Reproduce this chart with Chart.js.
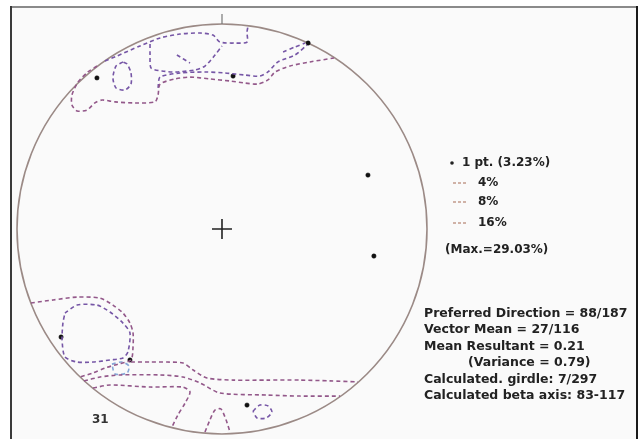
<!DOCTYPE html>
<html>
<head>
<meta charset="utf-8">
<script src="https://cdn.jsdelivr.net/npm/chart.js@4/dist/chart.umd.min.js"></script>
<style>
  html, body { margin: 0; padding: 0; background: #ffffff; }
  canvas { display: block; }
</style>
</head>
<body>
<canvas id="net" width="641" height="439"></canvas>
<script>
// Equal-area net, primitive circle radius = 100 units, x to the east, y to the north.

// Contour lines at 4 %
const contour4_north = [[-61.0,79.5],[-65.4,76.6],[-70.2,71.7],[-73.2,65.4],[-73.2,60.5],[-70.7,57.6],[-65.9,58.0],[-62.0,61.5],[-58.5,62.9],[-52.2,62.0],[-42.4,61.5],[-32.7,62.0],[-31.2,65.4],[-30.2,70.7],[-22.9,73.2],[-15.6,74.1],[-5.9,73.2],[3.9,72.2],[11.2,71.2],[17.6,70.7],[22.4,72.7],[25.9,76.6],[33.2,79.5],[42.9,81.5],[54.6,83.4]];
const contour4_southwest = [[-93.2,-36.1],[-82.4,-34.6],[-70.7,-33.2],[-59.5,-33.7],[-53.2,-37.1],[-48.3,-41.0],[-44.9,-45.9],[-43.4,-50.7],[-43.4,-57.6],[-44.4,-63.9],[-50.7,-65.9],[-57.1,-67.8],[-62.9,-70.2],[-69.3,-72.2]];
const contour4_south = [[-44.4,-64.9],[-35.1,-64.9],[-26.8,-64.9],[-19.0,-65.4],[-14.1,-68.8],[-7.3,-72.7],[5.4,-73.7],[22.0,-73.7],[38.0,-73.7],[52.7,-74.1],[66.3,-74.6]];
const contour4_southB = [[-67.3,-74.1],[-59.5,-72.2],[-49.8,-71.2],[-30.2,-71.2],[-19.0,-72.2],[-10.7,-75.1],[-1.0,-80.0],[22.0,-81.0],[38.0,-81.5],[57.6,-81.5]];
const contour4_southC = [[-62.9,-77.6],[-54.6,-76.1],[-35.1,-77.1],[-19.0,-77.1],[-15.6,-79.5],[-18.0,-84.9],[-21.5,-90.7],[-24.4,-96.6]];
const contour4_southD = [[-8.3,-99.0],[-5.9,-93.2],[-3.4,-88.3],[-0.5,-87.8],[2.0,-93.2],[3.9,-99.0]];

// Contour lines at 8 %
const contour8_north = [[-31.2,68.8],[-30.2,74.1],[-20.5,76.1],[-8.3,76.6],[1.5,76.1],[11.2,75.1],[18.5,74.6],[22.4,76.6],[27.3,81.5],[35.6,84.9],[41.5,89.8]];
const contour8_rim = [[-57.1,82.0],[-51.2,84.4],[-40.0,89.3],[-30.2,93.2],[-20.5,95.1],[-10.7,95.6],[-4.4,94.6],[-1.0,91.2],[6.3,90.7],[12.2,91.2],[12.2,96.1],[12.7,99.0]];
const contour8_cup = [[-35.1,90.2],[-35.1,84.9],[-34.6,78.5],[-29.3,77.1],[-22.9,76.6],[-13.2,77.6],[-8.3,79.5],[-3.4,84.9],[0.0,89.3]];
const contour8_tick = [[-22.0,84.9],[-15.6,81.0]];
const contour8_east = [[29.8,86.3],[35.6,88.8],[40.5,90.7]];
const contour8_loopN = [[-48.3,81.5],[-51.7,79.5],[-53.2,73.7],[-51.7,68.8],[-47.3,67.8],[-44.4,70.7],[-44.4,76.1],[-46.3,80.5],[-48.3,81.5]];
const contour8_loopSW = [[-76.6,-41.0],[-70.7,-37.1],[-61.0,-37.1],[-54.6,-40.5],[-48.3,-45.9],[-44.9,-50.7],[-45.9,-60.0],[-48.3,-62.9],[-54.6,-63.9],[-62.9,-64.9],[-70.7,-64.9],[-76.6,-62.4],[-78.0,-54.1],[-77.6,-45.9],[-76.6,-41.0]];
const contour8_loopS = [[15.1,-88.8],[18.5,-85.9],[22.4,-86.3],[24.4,-89.3],[21.5,-92.2],[17.1,-92.2],[15.1,-88.8]];

// Contour line at 16 %
const contour16_sw = [[-53.7,-65.9],[-48.8,-64.9],[-45.4,-66.8],[-46.3,-70.2],[-52.2,-70.7],[-53.7,-65.9]];

// Single poles
const polesX = [-61.0, 5.4, 42.0, 71.2, 74.1, -78.5, -44.9, 12.2];
const polesY = [73.7, 74.6, 90.7, 26.3, -13.2, -52.7, -63.9, -85.9];

// Legend and statistics text
const legendLabels = ['1 pt. (3.23%)', '4%', '8%', '16%', '(Max.=29.03%)'];
const statLines = [
  'Preferred Direction = 88/187',
  'Vector Mean = 27/116',
  'Mean Resultant = 0.21',
  '(Variance = 0.79)',
  'Calculated. girdle: 7/297',
  'Calculated beta axis: 83-117'
];
const sampleCount = '31';

const toPts = arr => arr.map(p => ({ x: p[0], y: p[1] }));
const COL4 = '#93588a';
const COL8 = '#7656a6';
const COL16 = '#86a6d6';

function contourSet(arr, color) {
  return {
    type: 'scatter', data: toPts(arr), showLine: true, pointRadius: 0,
    borderColor: color, borderWidth: 1.6, borderDash: [4, 3], fill: false,
    tension: 0.25, clip: false
  };
}

const datasets = [
  contourSet(contour4_north, COL4),
  contourSet(contour4_southwest, COL4),
  contourSet(contour4_south, COL4),
  contourSet(contour4_southB, COL4),
  contourSet(contour4_southC, COL4),
  contourSet(contour4_southD, COL4),
  contourSet(contour8_north, COL8),
  contourSet(contour8_rim, COL8),
  contourSet(contour8_cup, COL8),
  contourSet(contour8_tick, COL8),
  contourSet(contour8_east, COL8),
  contourSet(contour8_loopN, COL8),
  contourSet(contour8_loopSW, COL8),
  contourSet(contour8_loopS, COL8),
  contourSet(contour16_sw, COL16),
  {
    type: 'scatter',
    data: polesX.map((x, i) => ({ x, y: polesY[i] })),
    pointRadius: 2.2, pointBackgroundColor: '#111', pointBorderColor: '#111',
    pointBorderWidth: 0.5, clip: false
  },
  {
    type: 'scatter', data: [{ x: 0, y: 0 }],
    pointStyle: 'cross', pointRadius: 10, pointBorderColor: '#222',
    pointBorderWidth: 1.6, clip: false
  }
];

// Frame, primitive circle, north tick and text
const netDecor = {
  id: 'netDecor',
  beforeDatasetsDraw(chart) {
    const { ctx, scales: { x, y } } = chart;
    const cx = x.getPixelForValue(0), cy = y.getPixelForValue(0);
    const r = x.getPixelForValue(100) - cx;
    ctx.save();
    ctx.fillStyle = '#fafafa';
    ctx.fillRect(11, 7, 626, 440);
    ctx.lineWidth = 2;
    ctx.strokeStyle = '#8a8a8a';
    ctx.beginPath(); ctx.moveTo(11, 7); ctx.lineTo(637, 7); ctx.stroke();
    ctx.strokeStyle = '#3a3a3a';
    ctx.beginPath(); ctx.moveTo(11, 6); ctx.lineTo(11, 439); ctx.stroke();
    ctx.strokeStyle = '#1a1a1a';
    ctx.beginPath(); ctx.moveTo(637, 6); ctx.lineTo(637, 439); ctx.stroke();
    ctx.strokeStyle = '#9b8a86';
    ctx.lineWidth = 1.6;
    ctx.beginPath(); ctx.arc(cx, cy, r, 0, Math.PI * 2); ctx.stroke();
    ctx.strokeStyle = '#777';
    ctx.lineWidth = 1.2;
    ctx.beginPath(); ctx.moveTo(cx, cy - r - 10); ctx.lineTo(cx, cy - r); ctx.stroke();
    ctx.restore();
  },
  afterDraw(chart) {
    const { ctx } = chart;
    ctx.save();
    ctx.fillStyle = '#222';
    ctx.textBaseline = 'middle';
    ctx.font = 'bold 12px "DejaVu Sans"';
    // legend
    ctx.beginPath(); ctx.arc(452, 163, 1.8, 0, Math.PI * 2); ctx.fill();
    ctx.fillText(legendLabels[0], 462, 163);
    const rows = [183, 202, 223];
    ctx.strokeStyle = '#c29a8c';
    ctx.lineWidth = 1.3;
    ctx.setLineDash([3, 2]);
    rows.forEach((yy, i) => {
      ctx.beginPath(); ctx.moveTo(453, yy); ctx.lineTo(467, yy); ctx.stroke();
      ctx.fillText(legendLabels[i + 1], 478, yy);
    });
    ctx.setLineDash([]);
    ctx.fillText(legendLabels[4], 445, 250);
    // statistics
    ctx.font = 'bold 12.5px "DejaVu Sans"';
    statLines.forEach((t, i) => {
      const xx = i === 3 ? 468 : 424;
      ctx.fillText(t, xx, 313.5 + i * 16.5);
    });
    ctx.font = 'bold 12px "DejaVu Sans"';
    ctx.fillStyle = '#333';
    ctx.fillText(sampleCount, 92, 420);
    ctx.restore();
  }
};

new Chart(document.getElementById('net'), {
  type: 'scatter',
  data: { datasets },
  options: {
    responsive: false,
    animation: false,
    devicePixelRatio: 1,
    layout: { padding: 0, autoPadding: false },
    plugins: { legend: { display: false }, tooltip: { enabled: false }, title: { display: false } },
    scales: {
      x: { type: 'linear', min: -108.29, max: 204.39, display: false },
      y: { type: 'linear', min: -102.44, max: 111.71, display: false }
    }
  },
  plugins: [netDecor]
});
</script>
</body>
</html>
